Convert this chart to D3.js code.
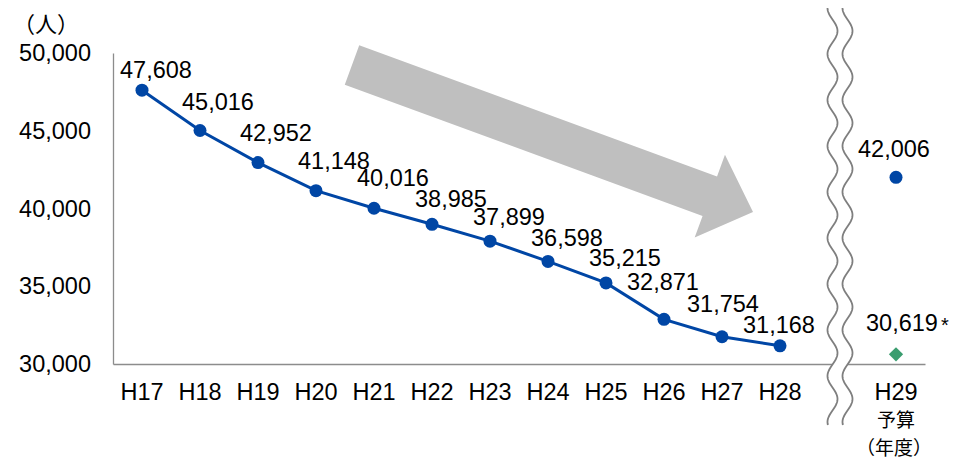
<!DOCTYPE html>
<html lang="ja">
<head>
<meta charset="UTF-8">
<title>chart</title>
<script src="https://cdn.jsdelivr.net/npm/d3@7"></script>
<style>
  body { margin: 0; background: #fff; }
  svg text { font-family: "Liberation Sans", Arial, "Noto Sans CJK JP", sans-serif; fill: #000; }
  svg text.jp { font-family: "Noto Sans CJK JP", sans-serif; }
</style>
</head>
<body>
<div id="chart"></div>
<script>
// data
var years = ["H17", "H18", "H19", "H20", "H21", "H22", "H23", "H24", "H25", "H26", "H27", "H28"];
var actual = [47608, 45016, 42952, 41148, 40016, 38985, 37899, 36598, 35215, 32871, 31754, 31168];
var budgetYear = "H29";
var budgetValue = 42006;
var budgetStarValue = 30619;
var yTicks = [30000, 35000, 40000, 45000, 50000];

var WIDTH = 966, HEIGHT = 461;
var BLUE = "#0046a5", GREEN = "#3a9d6f", GRAY = "#8c8c8c";
var FS = "23.5px";

var svg = d3.select("#chart").append("svg")
    .attr("width", WIDTH)
    .attr("height", HEIGHT);

var x = d3.scaleBand()
    .domain(years.concat(["gap", budgetYear]))
    .range([113, 925]);

var y = d3.scaleLinear()
    .domain([30000, 50000])
    .range([364, 53]);

function cx(k) { return x(k) + x.bandwidth() / 2; }

// big gray trend arrow
(function () {
    var sx = 352, sy = 65, tx = 753, ty = 212;
    var len = Math.hypot(tx - sx, ty - sy);
    var ang = Math.atan2(ty - sy, tx - sx) * 180 / Math.PI;
    var sw = 21, hw = 44, hl = 46;
    var pts = [[0, -sw], [len - hl, -sw], [len - hl, -hw], [len, 0], [len - hl, hw], [len - hl, sw], [0, sw]];
    svg.append("path")
        .attr("d", "M" + pts.map(function (p) { return p.join(","); }).join("L") + "Z")
        .attr("fill", "#bfbfbf")
        .attr("transform", "translate(" + sx + "," + sy + ")rotate(" + ang + ")");
})();

// axes
var yAxis = d3.axisLeft(y).tickValues(yTicks).tickFormat(d3.format(",")).tickSize(0).tickPadding(22);
var gy = svg.append("g").attr("transform", "translate(113,0)").call(yAxis);
gy.select(".domain").attr("stroke", GRAY).attr("stroke-width", 1.3);
gy.selectAll("text").style("font-size", FS);

var xAxis = d3.axisBottom(x).tickValues(years.concat([budgetYear])).tickSize(0).tickPadding(19);
var gx = svg.append("g").attr("transform", "translate(0,364)").call(xAxis);
gx.select(".domain").attr("stroke", GRAY).attr("stroke-width", 1.3);
gx.selectAll("text").style("font-size", FS);

svg.append("text").attr("class", "jp")
    .attr("x", 13).attr("y", 32)
    .style("font-size", "22px")
    .text("（人）");

// H29 sub-label, two lines
svg.append("text").attr("class", "jp")
    .attr("x", cx(budgetYear)).attr("y", 427)
    .attr("text-anchor", "middle")
    .style("font-size", "19px")
    .text("予算");
svg.append("text").attr("class", "jp")
    .attr("x", cx(budgetYear) - 2).attr("y", 455)
    .attr("text-anchor", "middle")
    .style("font-size", "19px")
    .text("（年度）");

// axis break: two wavy lines with white between
(function () {
    var c = cx("gap") + 2, gap = 15, amp = 5, per = 46, y0 = 8, y1 = 425;
    var ys = d3.range(y0, y1 + 0.5, 1);
    function wave(off) {
        return ys.map(function (v) { return [c + off - amp * Math.cos(2 * Math.PI * (v - y0) / per), v]; });
    }
    var left = wave(-gap / 2), right = wave(gap / 2);
    var line = d3.line();
    svg.append("path")
        .attr("d", line(left.concat(right.slice().reverse())) + "Z")
        .attr("fill", "#fff");
    [left, right].forEach(function (w) {
        svg.append("path").attr("d", line(w))
            .attr("fill", "none").attr("stroke", "#7f7f7f").attr("stroke-width", 1.8);
    });
})();

// actual series
var pts = years.map(function (k, i) { return { k: k, v: actual[i] }; });
svg.append("path")
    .datum(pts)
    .attr("d", d3.line().x(function (d) { return cx(d.k); }).y(function (d) { return y(d.v); }))
    .attr("fill", "none").attr("stroke", BLUE).attr("stroke-width", 3);

svg.selectAll("circle.pt")
    .data(pts).enter().append("circle")
    .attr("class", "pt")
    .attr("cx", function (d) { return cx(d.k); })
    .attr("cy", function (d) { return y(d.v); })
    .attr("r", 6.5)
    .attr("fill", BLUE);

// label nudges (dx, dy from point to label centre)
var nudge = [[14, -21], [18, -29], [18, -30], [18, -30], [19, -31], [19, -26], [19, -25], [19, -24], [19, -25], [-1, -38], [1, -33], [-1, -21]];
svg.selectAll("text.lbl")
    .data(pts).enter().append("text")
    .attr("class", "lbl")
    .attr("x", function (d, i) { return cx(d.k) + nudge[i][0]; })
    .attr("y", function (d, i) { return y(d.v) + nudge[i][1] + 8.4; })
    .attr("text-anchor", "middle")
    .style("font-size", FS)
    .text(function (d) { return d3.format(",")(d.v); });

// H29 budget
svg.append("circle")
    .attr("cx", cx(budgetYear)).attr("cy", y(budgetValue))
    .attr("r", 6.5).attr("fill", BLUE);
svg.append("text")
    .attr("x", cx(budgetYear) - 2).attr("y", y(budgetValue) - 28.5 + 8.4)
    .attr("text-anchor", "middle")
    .style("font-size", FS)
    .text(d3.format(",")(budgetValue));

svg.append("path")
    .attr("d", d3.symbol().type(d3.symbolDiamond2).size(130)())
    .attr("transform", "translate(" + cx(budgetYear) + "," + y(budgetStarValue) + ")")
    .attr("fill", GREEN);
svg.append("text")
    .attr("x", cx(budgetYear) + 6).attr("y", y(budgetStarValue) - 32 + 8.4)
    .attr("text-anchor", "middle")
    .style("font-size", FS)
    .text(d3.format(",")(budgetStarValue));
svg.append("text")
    .attr("x", cx(budgetYear) + 45).attr("y", y(budgetStarValue) - 22)
    .style("font-size", "20px")
    .text("*");
</script>
</body>
</html>
